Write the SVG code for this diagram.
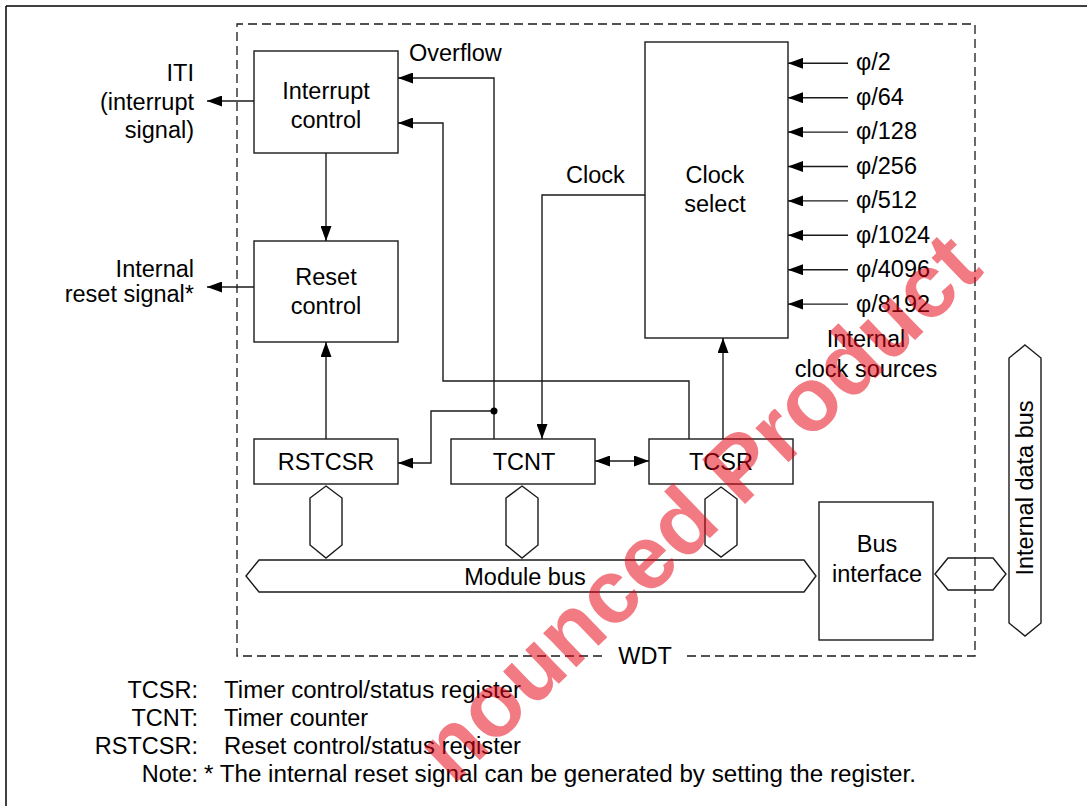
<svg xmlns="http://www.w3.org/2000/svg" width="1091" height="806" viewBox="0 0 1091 806">
<defs>
<style>
text{font-family:"Liberation Sans",Arial,sans-serif;font-size:23.5px;fill:#000}
.m{text-anchor:middle}
.e{text-anchor:end}
.box{fill:none;stroke:#1a1a1a;stroke-width:1.4}
.ln{fill:none;stroke:#1a1a1a;stroke-width:1.4}
.dash{fill:none;stroke:#1a1a1a;stroke-width:1.3;stroke-dasharray:9 5}
.wm{font-family:"Liberation Sans",Arial,sans-serif;font-weight:bold;font-size:90px;fill:#e60012;fill-opacity:0.52}
</style>
<marker id="ah" viewBox="0 0 15 11" refX="15" refY="5.5" markerWidth="15" markerHeight="11" markerUnits="userSpaceOnUse" orient="auto-start-reverse">
<path d="M0,0 L15,5.5 L0,11 Z" fill="#000"/>
</marker>
</defs>
<rect width="1091" height="806" fill="#fff"/>
<g id="frame">
<line x1="6" y1="6" x2="1087" y2="6" stroke="#000" stroke-width="1.5"/>
<line x1="6" y1="6" x2="6" y2="806" stroke="#000" stroke-width="1.5"/>
</g>
<g id="wdt">
<path class="dash" d="M602,656 H237 V24 H975 V656 H686"/>
<text class="m" x="645" y="664">WDT</text>
</g>
<g id="interrupt-control">
<rect class="box" x="254" y="51" width="144" height="102"/>
<text class="m" x="326" y="99">Interrupt</text>
<text class="m" x="326" y="128">control</text>
</g>
<g id="reset-control">
<rect class="box" x="254" y="241" width="144" height="101"/>
<text class="m" x="326" y="285">Reset</text>
<text class="m" x="326" y="314">control</text>
</g>
<g id="clock-select">
<rect class="box" x="645" y="42" width="143" height="296"/>
<text class="m" x="715" y="183">Clock</text>
<text class="m" x="715" y="212">select</text>
</g>
<g id="rstcsr">
<rect class="box" x="254" y="439" width="144" height="45"/>
<text class="m" x="326" y="470">RSTCSR</text>
</g>
<g id="tcnt">
<rect class="box" x="451" y="439" width="144" height="45"/>
<text class="m" x="524" y="470">TCNT</text>
</g>
<g id="tcsr">
<rect class="box" x="649" y="439" width="144" height="45"/>
<text class="m" x="721" y="470">TCSR</text>
</g>
<g id="bus-interface">
<rect class="box" x="819" y="502" width="114" height="138"/>
<text class="m" x="877" y="552">Bus</text>
<text class="m" x="877" y="582">interface</text>
</g>
<g id="module-bus">
<polygon class="box" points="246,576 259,560 804,560 816,576 804,592 259,592"/>
<text class="m" x="525" y="585">Module bus</text>
</g>
<g id="internal-data-bus">
<polygon class="box" points="1025,345 1041,358 1041,623 1025,636 1009,623 1009,358"/>
<text class="m" transform="translate(1033,488) rotate(-90)">Internal data bus</text>
</g>
<g id="bus-links">
<polygon class="box" points="326,486 342,498 342,545 326,558 310,545 310,498"/>
<polygon class="box" points="522,486 538,498 538,545 522,558 506,545 506,498"/>
<polygon class="box" points="721,487 737,499 737,545 721,557 705,545 705,499"/>
<polygon class="box" points="935,574 948,558 993,558 1006,574 993,590 948,590"/>
</g>
<g id="labels">
<text class="e" x="194" y="81">ITI</text>
<text class="e" x="194" y="110">(interrupt</text>
<text class="e" x="194" y="138">signal)</text>
<text class="e" x="194" y="277">Internal</text>
<text class="e" x="194" y="302">reset signal*</text>
<text x="409" y="61">Overflow</text>
<text x="566" y="183">Clock</text>
<text x="856" y="70">φ/2</text>
<text x="856" y="104.5">φ/64</text>
<text x="856" y="139">φ/128</text>
<text x="856" y="173.5">φ/256</text>
<text x="856" y="208">φ/512</text>
<text x="856" y="242.5">φ/1024</text>
<text x="856" y="277">φ/4096</text>
<text x="856" y="311.5">φ/8192</text>
<text class="m" x="866" y="347">Internal</text>
<text class="m" x="866" y="377">clock sources</text>
</g>
<g id="connectors">
<line class="ln" x1="254" y1="101" x2="207" y2="101" marker-end="url(#ah)"/>
<line class="ln" x1="254" y1="287" x2="207" y2="287" marker-end="url(#ah)"/>
<line class="ln" x1="326" y1="153" x2="326" y2="241" marker-end="url(#ah)"/>
<line class="ln" x1="326" y1="439" x2="326" y2="342" marker-end="url(#ah)"/>
<polyline class="ln" points="494,439 494,78 398,78" marker-end="url(#ah)"/>
<polyline class="ln" points="689,439 689,381 443,381 443,123 398,123" marker-end="url(#ah)"/>
<polyline class="ln" points="494,411 431,411 431,463 398,463" marker-end="url(#ah)"/>
<circle cx="494" cy="411" r="3.5" fill="#000"/>
<polyline class="ln" points="645,195 542,195 542,439" marker-end="url(#ah)"/>
<line class="ln" x1="723" y1="439" x2="723" y2="338" marker-end="url(#ah)"/>
<line class="ln" x1="595" y1="461" x2="649" y2="461" marker-start="url(#ah)" marker-end="url(#ah)"/>
<line class="ln" x1="848" y1="63.3" x2="788" y2="63.3" marker-end="url(#ah)"/>
<line class="ln" x1="848" y1="97.7" x2="788" y2="97.7" marker-end="url(#ah)"/>
<line class="ln" x1="848" y1="132.1" x2="788" y2="132.1" marker-end="url(#ah)"/>
<line class="ln" x1="848" y1="166.5" x2="788" y2="166.5" marker-end="url(#ah)"/>
<line class="ln" x1="848" y1="200.9" x2="788" y2="200.9" marker-end="url(#ah)"/>
<line class="ln" x1="848" y1="235.3" x2="788" y2="235.3" marker-end="url(#ah)"/>
<line class="ln" x1="848" y1="269.7" x2="788" y2="269.7" marker-end="url(#ah)"/>
<line class="ln" x1="848" y1="304.1" x2="788" y2="304.1" marker-end="url(#ah)"/>
</g>
<g id="legend">
<text class="e" x="198" y="697.5">TCSR:</text>
<text x="224" y="697.5" textLength="297" lengthAdjust="spacingAndGlyphs">Timer control/status register</text>
<text class="e" x="198" y="726">TCNT:</text>
<text x="224" y="726">Timer counter</text>
<text class="e" x="198" y="754">RSTCSR:</text>
<text x="224" y="754" textLength="297" lengthAdjust="spacingAndGlyphs">Reset control/status register</text>
<text class="e" x="198" y="782">Note:</text>
<text x="204" y="782" textLength="712" lengthAdjust="spacingAndGlyphs">* The internal reset signal can be generated by setting the register.</text>
</g>
<g id="watermark">
<text class="wm" transform="translate(453,786) rotate(-44)">nounced Product</text>
</g>
</svg>
